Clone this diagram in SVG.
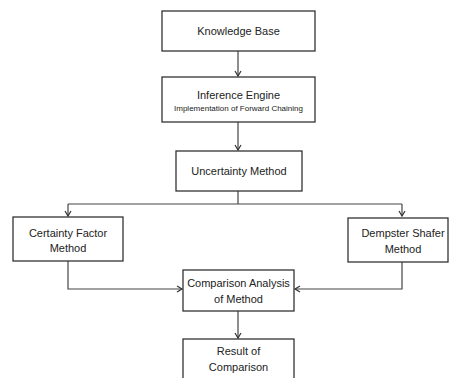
<svg xmlns="http://www.w3.org/2000/svg" width="449" height="378" viewBox="0 0 449 378">
<defs>
<style>
.box{fill:#fff;stroke:#333;stroke-width:1.3}
.t{font-family:"Liberation Sans",Arial,sans-serif;font-size:11px;fill:#222;text-anchor:middle}
.s{font-size:8px}
.c{fill:none;stroke:#444;stroke-width:1.2}
</style>
<marker id="ah" markerWidth="8" markerHeight="8" refX="6" refY="4" orient="auto" markerUnits="userSpaceOnUse">
<path d="M1,1 L6,4 L1,7" fill="none" stroke="#333" stroke-width="1.2"/>
</marker>
</defs>
<rect width="449" height="378" fill="#fff"/>
<g id="connectors">
<path class="c" d="M238,51 V76" marker-end="url(#ah)"/>
<path class="c" d="M238,122 V150" marker-end="url(#ah)"/>
<path class="c" d="M238,191 V204"/>
<path class="c" d="M68,204 H402"/>
<path class="c" d="M68,204 V216" marker-end="url(#ah)"/>
<path class="c" d="M402,204 V216" marker-end="url(#ah)"/>
<path class="c" d="M68,261 V289 H182" marker-end="url(#ah)"/>
<path class="c" d="M402,262 V289 H295" marker-end="url(#ah)"/>
<path class="c" d="M238,311 V338" marker-end="url(#ah)"/>
</g>
<g id="knowledge-base">
<rect class="box" x="162" y="11" width="153" height="40"/>
<text class="t" x="238.5" y="35">Knowledge Base</text>
</g>
<g id="inference-engine">
<rect class="box" x="162" y="77" width="153" height="45"/>
<text class="t" x="238.5" y="99">Inference Engine</text>
<text class="t s" x="238.5" y="111">Implementation of Forward Chaining</text>
</g>
<g id="uncertainty-method">
<rect class="box" x="176" y="151" width="126" height="40"/>
<text class="t" x="239" y="175">Uncertainty Method</text>
</g>
<g id="certainty-factor">
<rect class="box" x="13" y="217" width="110" height="44"/>
<text class="t" x="68" y="237">Certainty Factor</text>
<text class="t" x="68" y="252">Method</text>
</g>
<g id="dempster-shafer">
<rect class="box" x="348" y="218" width="100" height="44"/>
<text class="t" x="403" y="237">Dempster Shafer</text>
<text class="t" x="403" y="253">Method</text>
</g>
<g id="comparison-analysis">
<rect class="box" x="183" y="270" width="111" height="41"/>
<text class="t" x="238.5" y="287">Comparison Analysis</text>
<text class="t" x="238.5" y="303">of Method</text>
</g>
<g id="result">
<rect class="box" x="183" y="339" width="111" height="45"/>
<text class="t" x="238.5" y="355">Result of</text>
<text class="t" x="238.5" y="371">Comparison</text>
</g>
</svg>
